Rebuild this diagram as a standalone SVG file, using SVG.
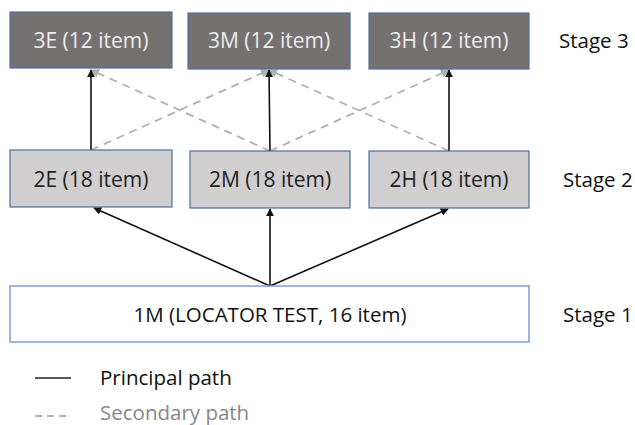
<svg xmlns="http://www.w3.org/2000/svg" width="635" height="425" viewBox="0 0 635 425">
<defs>
<style>
text{font-family:"Open Sans","Liberation Sans",sans-serif;font-size:20.5px}
.s3 rect{fill:#767171;stroke:#4a6fa5;stroke-width:1.2}
.s3 text{fill:#ececec;text-anchor:middle;font-size:21px}
.s2 rect{fill:#d0cece;stroke:#4a6fa5;stroke-width:1.2}
.s2 text{fill:#222;text-anchor:middle;font-size:21px}
.s1 rect{fill:#fff;stroke:#7f9fd0;stroke-width:1.5}
.s1 text{fill:#111;text-anchor:middle}
.lbl{fill:#111}
.pri{stroke:#111;stroke-width:1.6;fill:none}
.sec{stroke:#b0b0b0;stroke-width:1.8;stroke-dasharray:8 6;fill:none}
</style>
<marker id="ah" viewBox="0 0 10 10" refX="9" refY="5" markerWidth="5" markerHeight="5" orient="auto"><path d="M0,0L10,5L0,10z" fill="#111"/></marker>
<marker id="ag" viewBox="0 0 10 10" refX="9" refY="5" markerWidth="5" markerHeight="5" orient="auto"><path d="M0,0L10,5L0,10z" fill="#b0b0b0"/></marker>
</defs>
<g id="connectors">
<line class="sec" x1="91" y1="150" x2="269" y2="70" marker-end="url(#ag)"/>
<line class="sec" x1="270" y1="151" x2="91" y2="70" marker-end="url(#ag)"/>
<line class="sec" x1="270" y1="151" x2="449" y2="70" marker-end="url(#ag)"/>
<line class="sec" x1="449" y1="151" x2="269" y2="70" marker-end="url(#ag)"/>
<line class="pri" x1="91" y1="150" x2="91" y2="70" marker-end="url(#ah)"/>
<line class="pri" x1="270" y1="151" x2="269" y2="70" marker-end="url(#ah)"/>
<line class="pri" x1="449" y1="151" x2="449" y2="70" marker-end="url(#ah)"/>
<line class="pri" x1="270" y1="286" x2="94" y2="208" marker-end="url(#ah)"/>
<line class="pri" x1="270" y1="286" x2="270" y2="209" marker-end="url(#ah)"/>
<line class="pri" x1="270" y1="286" x2="448" y2="209" marker-end="url(#ah)"/>
</g>
<g id="n3E" class="s3"><rect x="10" y="12" width="162" height="56"/><text x="91" y="48">3E (12 item)</text></g>
<g id="n3M" class="s3"><rect x="188" y="13" width="162" height="56"/><text x="269" y="48">3M (12 item)</text></g>
<g id="n3H" class="s3"><rect x="369" y="13" width="160" height="56"/><text x="449" y="48">3H (12 item)</text></g>
<g id="n2E" class="s2"><rect x="10" y="150" width="162" height="57"/><text x="91" y="187">2E (18 item)</text></g>
<g id="n2M" class="s2"><rect x="190" y="151" width="160" height="57"/><text x="270" y="187">2M (18 item)</text></g>
<g id="n2H" class="s2"><rect x="369" y="151" width="160" height="57"/><text x="449" y="187">2H (18 item)</text></g>
<g id="n1M" class="s1"><rect x="10" y="286" width="519" height="56"/><text x="270" y="322">1M (LOCATOR TEST, 16 item)</text></g>
<g id="stages">
<text class="lbl" x="559" y="48">Stage 3</text>
<text class="lbl" x="563" y="187">Stage 2</text>
<text class="lbl" x="563" y="322">Stage 1</text>
</g>
<g id="legend">
<line x1="35" y1="378" x2="71" y2="378" stroke="#222" stroke-width="1.5"/>
<text x="100" y="385" fill="#111">Principal path</text>
<line x1="35" y1="416" x2="71" y2="416" stroke="#999" stroke-width="1.5" stroke-dasharray="7 5"/>
<text x="100" y="420" fill="#888">Secondary path</text>
</g>
</svg>
